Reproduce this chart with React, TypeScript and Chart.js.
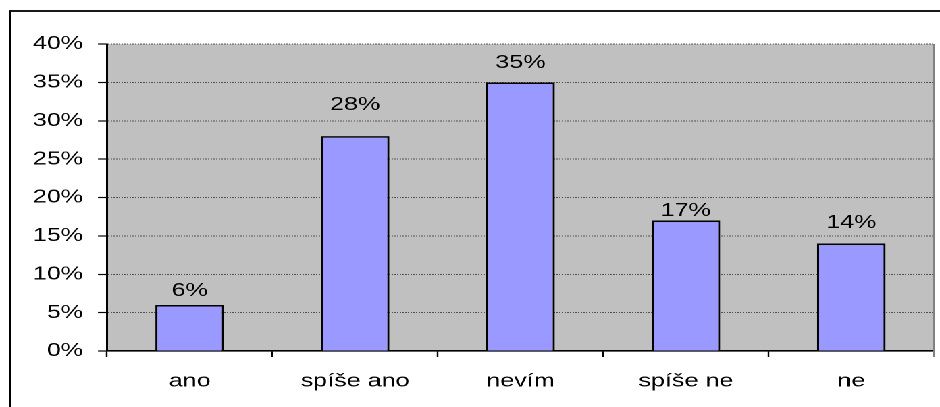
import { useEffect, useRef } from "react";
import { Chart, registerables } from "chart.js";

Chart.register(...registerables);

// ---- data ----
const categories = ["ano", "spíše ano", "nevím", "spíše ne", "ne"];
const values = [6, 28, 35, 17, 14];
const valueLabels = ["6%", "28%", "35%", "17%", "14%"];
const yMin = 0;
const yMax = 40;
const yStep = 5;

// ---- layout (the reference is a horizontally stretched picture) ----
const W = 696;
const H = 407;
const SX = 940 / W;
const FONT = { family: "'Liberation Sans', Arial, sans-serif", size: 18.6 };
// how far each value label's centre sits above its bar (px)
const labelLift = [14.3, 31.4, 19.5, 9.9, 20.5];

const framePlugin = {
  id: "frame",
  beforeDraw(chart: any) {
    const { ctx, chartArea } = chart;
    ctx.save();
    ctx.fillStyle = "#C0C0C0";
    ctx.fillRect(chartArea.left, chartArea.top, chartArea.right - chartArea.left, chartArea.bottom - chartArea.top);
    ctx.strokeStyle = "#000";
    ctx.lineWidth = 1.8;
    ctx.strokeRect(10 / SX, 11, W + 20, H + 20);
    ctx.restore();
  },
  afterDatasetsDraw(chart: any) {
    const { ctx, chartArea } = chart;
    ctx.save();
    ctx.strokeStyle = "#808080";
    ctx.lineWidth = 1.4;
    ctx.beginPath();
    ctx.moveTo(chartArea.right, chartArea.top);
    ctx.lineTo(chartArea.right, chartArea.bottom + 6);
    ctx.stroke();
    ctx.restore();
  },
};

const valueLabelPlugin = {
  id: "valueLabels",
  afterDatasetsDraw(chart: any) {
    const { ctx } = chart;
    const meta = chart.getDatasetMeta(0);
    ctx.save();
    ctx.fillStyle = "#000";
    ctx.font = `${FONT.size}px ${FONT.family}`;
    ctx.textAlign = "center";
    ctx.textBaseline = "middle";
    meta.data.forEach((bar: any, i: number) => {
      ctx.fillText(valueLabels[i], bar.x, bar.y - labelLift[i]);
    });
    ctx.restore();
  },
};

export default function App() {
  const ref = useRef<HTMLCanvasElement | null>(null);

  useEffect(() => {
    if (!ref.current) return;
    const chart = new Chart(ref.current, {
      type: "bar",
      data: {
        labels: categories,
        datasets: [
          {
            data: values,
            backgroundColor: "#9999FF",
            borderColor: "#000",
            borderWidth: 1.6,
            barPercentage: 0.415,
            categoryPercentage: 1,
          },
        ],
      },
      options: {
        responsive: false,
        animation: false,
        events: [],
        devicePixelRatio: 2,
        layout: { padding: { left: 0, right: W - 934 / SX, top: 44, bottom: 0 } },
        plugins: {
          legend: { display: false },
          tooltip: { enabled: false },
        },
        scales: {
          x: {
            offset: true,
            grid: {
              offset: true,
              drawOnChartArea: false,
              drawTicks: true,
              tickLength: 6,
              tickColor: "#000",
              tickWidth: 1.2,
            },
            border: { display: true, color: "#000", width: 1.6 },
            ticks: { color: "#000", font: FONT, padding: 13, maxRotation: 0, autoSkip: false },
            afterFit: (s: any) => {
              s.height = H - 351;
            },
          },
          y: {
            min: yMin,
            max: yMax,
            ticks: {
              stepSize: yStep,
              color: "#000",
              font: FONT,
              padding: 11,
              callback: (v: any) => `${v}%`,
            },
            grid: {
              color: "#505050",
              lineWidth: 1,
              tickColor: "#000",
              tickLength: 9 / SX,
              tickWidth: 1.2,
            },
            border: { display: true, color: "#000", width: 1.5, dash: [1, 1] },
            afterFit: (s: any) => {
              s.width = 107 / SX;
            },
          },
        },
      },
      plugins: [framePlugin, valueLabelPlugin],
    });
    return () => chart.destroy();
  }, []);

  return (
    <div
      style={{
        position: "fixed",
        left: 0,
        top: 0,
        width: W,
        height: H,
        transform: `scaleX(${SX})`,
        transformOrigin: "0 0",
        background: "#fff",
      }}
    >
      <canvas ref={ref} width={W} height={H} style={{ width: W, height: H, display: "block" }} />
    </div>
  );
}
